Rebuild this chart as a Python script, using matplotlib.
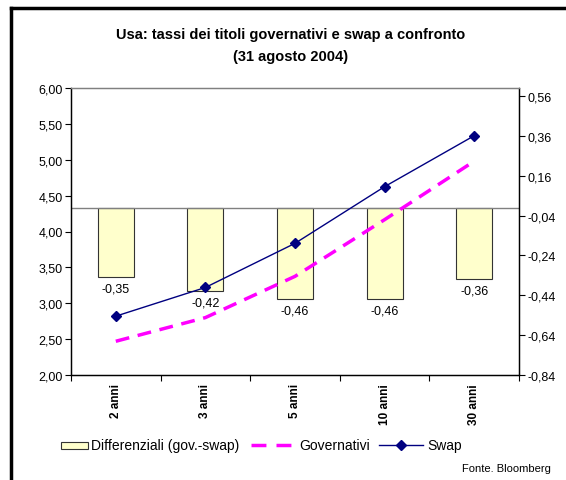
import matplotlib
matplotlib.use('Agg')
import matplotlib.pyplot as plt
from matplotlib.patches import Rectangle
from matplotlib.lines import Line2D
import numpy as np

plt.rcParams['font.family'] = ['Liberation Sans', 'DejaVu Sans']

categorie = ['2 anni', '3 anni', '5 anni', '10 anni', '30 anni']
differenziali = [-0.35, -0.42, -0.46, -0.46, -0.36]
governativi = [2.47, 2.80, 3.375, 4.165, 4.98]
swap = [2.82, 3.22, 3.835, 4.625, 5.335]

W, H = 566, 481
fig = plt.figure(figsize=(W / 100, H / 100), dpi=100)


def fx(px):
    return px / W


def fy(py):
    return 1 - py / H


# cornice (solo alto e sinistra visibili)
fig.add_artist(Line2D([fx(11), fx(11)], [0, fy(9)], color='black', lw=2.5))
fig.add_artist(Line2D([fx(11), 1], [fy(9), fy(9)], color='black', lw=2.5))

ax = fig.add_axes([fx(71), fy(376), 448 / W, 287 / H])
ax_r = ax.twinx()
ax.set_zorder(ax_r.get_zorder() + 1)
ax.patch.set_visible(False)

x = np.arange(len(categorie))

# barre sull'asse destro
ax_r.bar(x, differenziali, width=0.4, color='#FFFFCC', edgecolor='#333333', linewidth=0.8)
ax_r.axhline(0, color='#808080', lw=1)
for xi, v in zip(x, differenziali):
    ax_r.annotate(('%.2f' % v).replace('.', ','), (xi, v), xytext=(0, -4),
                  textcoords='offset points', ha='center', va='top', fontsize=9)
ax_r.set_ylim(-0.84, 0.6)
rt = np.arange(-0.84, 0.57, 0.2)
ax_r.set_yticks(rt)
ax_r.set_yticklabels([('%.2f' % t).replace('.', ',') for t in rt], fontsize=9)

# linee sull'asse sinistro
ax.plot(x, governativi, color='#FF00FF', lw=2.5, ls=(0, (4, 2.5)))
ax.plot(x, swap, color='#000080', lw=1, marker='D', markersize=5)
ax.set_ylim(2, 6)
lt = np.arange(2, 6.01, 0.5)
ax.set_yticks(lt)
ax.set_yticklabels([('%.2f' % t).replace('.', ',') for t in lt], fontsize=9)

ax.set_xlim(-0.5, len(categorie) - 0.5)
ax.set_xticks(np.arange(-0.5, len(categorie), 1.0))
ax.set_xticklabels([])
ax.set_xticks(x, minor=True)
ax.set_xticklabels(categorie, minor=True, rotation=90, fontsize=8.5, fontweight='bold')
ax.tick_params(axis='x', which='minor', length=0, pad=6)
ax.tick_params(axis='x', which='major', length=4, direction='out')
ax.tick_params(axis='y', length=4, direction='out', pad=2)
ax_r.tick_params(axis='y', length=4, direction='out', pad=2)

for a in (ax, ax_r):
    a.spines['top'].set_color('#808080')
    a.spines['left'].set_color('black')
    a.spines['right'].set_color('black')
    a.spines['bottom'].set_color('black')
    for s in a.spines.values():
        s.set_linewidth(0.9)

fig.text(fx(291), fy(46), 'Usa: tassi dei titoli governativi e swap a confronto\n(31 agosto 2004)',
         ha='center', va='center', fontsize=10.5, fontweight='bold', linespacing=1.75)

# legenda disegnata a mano
ly = fy(446)
fig.add_artist(Rectangle((fx(61), fy(450)), 27 / W, 7 / H, facecolor='#FFFFCC',
                         edgecolor='#333333', linewidth=0.8, transform=fig.transFigure))
fig.text(fx(91), ly, 'Differenziali (gov.-swap)', ha='left', va='center', fontsize=10)
fig.add_artist(Line2D([fx(251), fx(291)], [ly, ly], color='#FF00FF', lw=2.5,
                      ls=(0, (4.3, 2.9))))
fig.text(fx(299), ly, 'Governativi', ha='left', va='center', fontsize=10)
fig.add_artist(Line2D([fx(379), fx(423)], [ly, ly], color='#000080', lw=1))
fig.add_artist(Line2D([fx(401)], [ly], color='#000080', marker='D', markersize=5, lw=0))
fig.text(fx(427), ly, 'Swap', ha='left', va='center', fontsize=10)

fig.text(fx(551), fy(469), 'Fonte. Bloomberg', ha='right', va='center', fontsize=8)

fig.savefig('out.png', dpi=100)
